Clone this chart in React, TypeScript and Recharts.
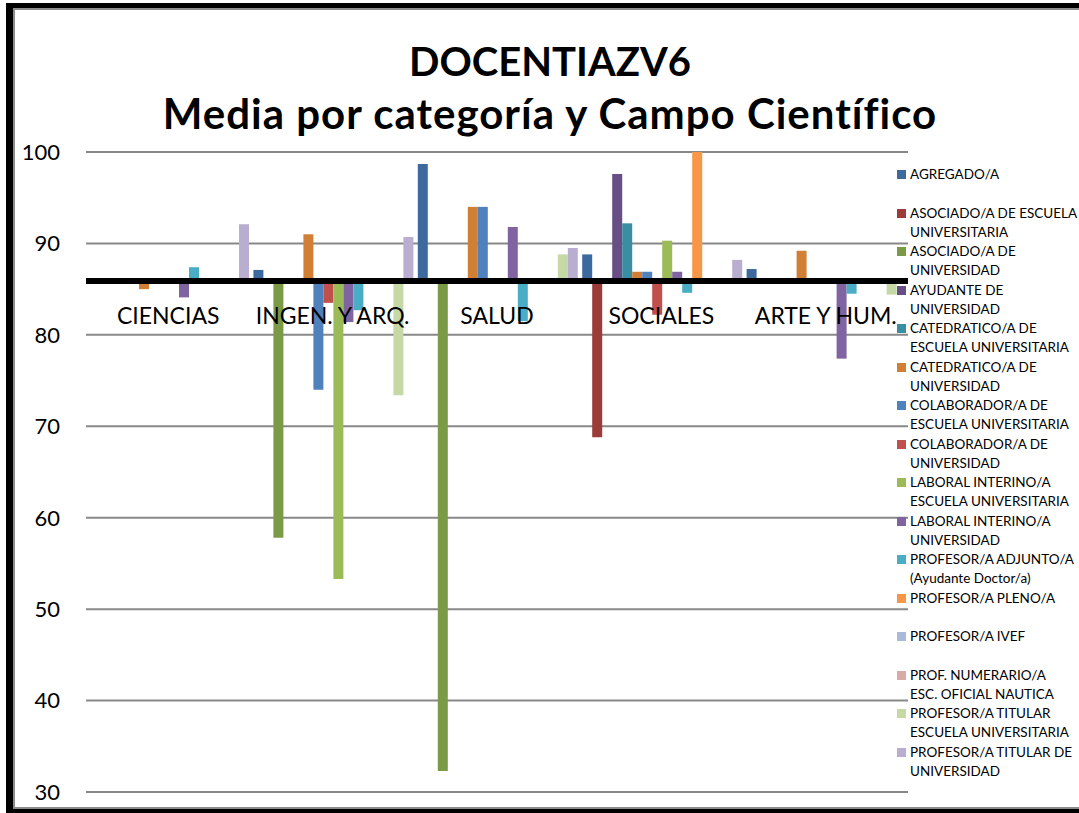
import React from 'react';
import { BarChart, Bar, XAxis, YAxis, CartesianGrid, ReferenceLine } from 'recharts';

const FONT = 'Lato, "Open Sans", sans-serif';

const categories = ['CIENCIAS', 'INGEN. Y ARQ.', 'SALUD', 'SOCIALES', 'ARTE Y HUM.'];
const yTicks = [30, 40, 50, 60, 70, 80, 90, 100];
const baseline = 85.9;

const seriesNames = [
  'AGREGADO/A',
  'ASOCIADO/A DE ESCUELA\nUNIVERSITARIA',
  'ASOCIADO/A DE\nUNIVERSIDAD',
  'AYUDANTE DE\nUNIVERSIDAD',
  'CATEDRATICO/A DE\nESCUELA UNIVERSITARIA',
  'CATEDRATICO/A DE\nUNIVERSIDAD',
  'COLABORADOR/A DE\nESCUELA UNIVERSITARIA',
  'COLABORADOR/A DE\nUNIVERSIDAD',
  'LABORAL INTERINO/A\nESCUELA UNIVERSITARIA',
  'LABORAL INTERINO/A\nUNIVERSIDAD',
  'PROFESOR/A ADJUNTO/A\n(Ayudante Doctor/a)',
  'PROFESOR/A PLENO/A',
  'PROFESOR/A IVEF',
  'PROF. NUMERARIO/A\nESC. OFICIAL NAUTICA',
  'PROFESOR/A TITULAR\nESCUELA UNIVERSITARIA',
  'PROFESOR/A TITULAR DE\nUNIVERSIDAD',
];

const seriesColors = [
  '#3d6a9e', '#9c3c3a', '#7b9a45', '#674f86', '#3a8ea3', '#d07f35',
  '#4f81bd', '#c0504d', '#9bbb59', '#8064a2', '#4bacc6', '#f79646',
  '#a9bad9', '#daaaa8', '#c5d8a6', '#b9aecf',
];

// values per series, in category order (null = no bar)
const agregado = [null, 87.1, 98.7, 88.8, 87.2];
const asociadoEU = [null, null, null, 68.8, null];
const asociadoUniv = [null, 57.8, 32.3, null, null];
const ayudanteUniv = [null, null, null, 97.6, null];
const catedraticoEU = [null, null, null, 92.2, null];
const catedraticoUniv = [85.0, 91.0, 94.0, 86.9, 89.2];
const colaboradorEU = [null, 74.0, 94.0, 86.9, null];
const colaboradorUniv = [null, 83.5, null, 82.2, null];
const laboralEU = [null, 53.3, null, 90.3, null];
const laboralUniv = [84.1, 81.4, 91.8, 86.9, 77.4];
const adjunto = [87.4, 82.7, 81.5, 84.6, 84.5];
const pleno = [null, null, null, 100, null];
const ivef = [null, null, null, null, null];
const numerario = [null, null, null, null, null];
const titularEU = [null, 73.4, 88.8, null, 84.4];
const titularUniv = [92.1, 90.7, 89.5, 88.2, null];

const seriesValues: (number | null)[][] = [
  agregado, asociadoEU, asociadoUniv, ayudanteUniv, catedraticoEU, catedraticoUniv,
  colaboradorEU, colaboradorUniv, laboralEU, laboralUniv, adjunto, pleno,
  ivef, numerario, titularEU, titularUniv,
];

// bars hang from the baseline, so each one is a [low, high] range
const chartData = categories.map((name, ci) => {
  const row: Record<string, any> = { name };
  seriesValues.forEach((vals, si) => {
    const v = vals[ci];
    row['s' + si] = v == null ? null : [Math.min(baseline, v), Math.max(baseline, v)];
  });
  return row;
});

const PLOT_TOP = 152;
const PLOT_H = 640;
const LABEL_Y = PLOT_TOP + ((100 - baseline) / 70) * PLOT_H + 43;

function CategoryTick(props: any) {
  const { x, payload } = props;
  return (
    <text x={x} y={LABEL_Y} textAnchor="middle" fontSize={23} fontFamily={FONT} fill="#000">
      {payload.value}
    </text>
  );
}

export default function App() {
  return (
    <div style={{ position: 'absolute', left: 0, top: 0, width: 1079, height: 813, overflow: 'hidden', background: '#fff' }}>
      <div
        style={{
          position: 'absolute', left: 6, top: 3, width: 1200, height: 810, boxSizing: 'border-box',
          borderLeft: '7px solid #000', borderTop: '5px solid #000', borderBottom: '4px solid #000',
        }}
      >
        <div
          style={{
            position: 'absolute', left: 0, top: 0, right: 0, bottom: 0,
            borderLeft: '2px solid #8c8c8c', borderTop: '2px solid #8c8c8c', borderBottom: '2px solid #8c8c8c',
          }}
        />
      </div>

      <div
        style={{
          position: 'absolute', left: 0, top: 35, width: 1100, textAlign: 'center',
          fontFamily: FONT, fontWeight: 700, fontSize: 40, lineHeight: '52px', color: '#000',
        }}
      >
        <div>DOCENTIAZV6</div>
        <div style={{ fontSize: 42, letterSpacing: 1 }}>Media por categoría y Campo Científico</div>
      </div>

      <div style={{ position: 'absolute', left: 0, top: 0 }}>
        <BarChart
          width={1079}
          height={813}
          data={chartData}
          margin={{ top: 152, right: 171, bottom: 0, left: 0 }}
          barCategoryGap={3}
          barGap={0}
        >
          <CartesianGrid vertical={false} stroke="#888" strokeWidth={2} />
          <XAxis
            dataKey="name"
            height={21}
            axisLine={false}
            tickLine={false}
            interval={0}
            tick={CategoryTick}
          />
          <YAxis
            width={86}
            domain={[30, 100]}
            ticks={yTicks}
            interval={0}
            axisLine={false}
            tickLine={false}
            tickSize={0}
            tickMargin={26}
            tick={{ fill: '#000', fontSize: 22, fontFamily: FONT }}
          />
          {seriesNames.map((n, i) => (
            <Bar key={n} dataKey={'s' + i} name={n} fill={seriesColors[i]} isAnimationActive={false} />
          ))}
          <ReferenceLine y={baseline} stroke="#000" strokeWidth={6} />
        </BarChart>
      </div>

      <div
        style={{
          position: 'absolute', left: 896, top: 165, width: 183, fontFamily: FONT,
          fontSize: 13.5, lineHeight: '19.25px', color: '#000',
        }}
      >
        {seriesNames.map((n, i) => (
          <div key={n} style={{ position: 'relative', height: 38.5, paddingLeft: 14, whiteSpace: 'pre' }}>
            <span style={{ position: 'absolute', left: 1, top: 5, width: 9, height: 9, background: seriesColors[i] }} />
            {n}
          </div>
        ))}
      </div>
    </div>
  );
}
